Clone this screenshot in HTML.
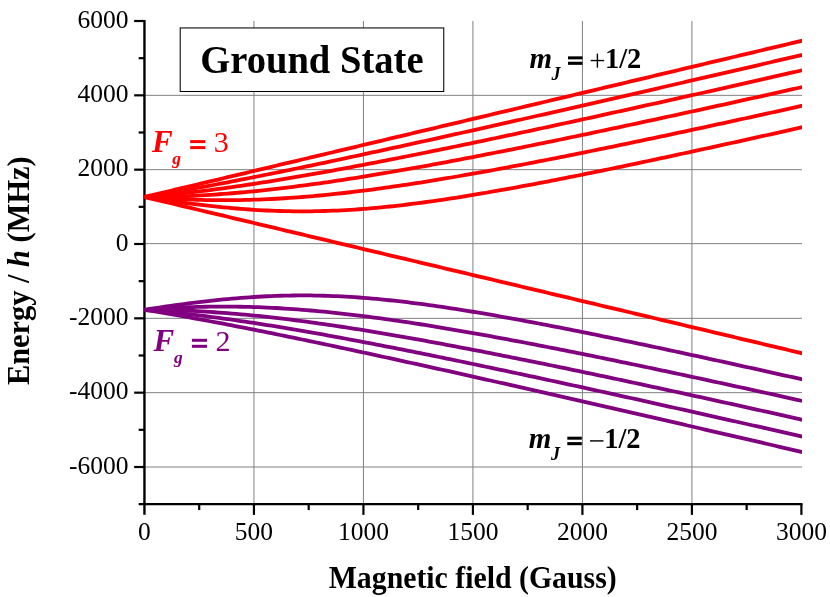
<!DOCTYPE html>
<html><head><meta charset="utf-8"><title>Ground State</title>
<style>
html,body{margin:0;padding:0;background:#fff;}
body{width:830px;height:597px;overflow:hidden;font-family:"Liberation Serif",serif;}
svg{display:block;will-change:transform;}
text{font-family:"Liberation Serif",serif;}
.tk{font-size:25.5px;fill:#000;}
.b{font-weight:bold;}
.bi{font-weight:bold;font-style:italic;}
</style></head><body>
<svg width="830" height="597" viewBox="0 0 830 597">
<rect width="830" height="597" fill="#fff"/>
<defs><clipPath id="cp"><rect x="144.45" y="0" width="657.55" height="504.17"/></clipPath></defs>

<g stroke="#808080" stroke-width="1" fill="none">
<line x1="253.94" y1="21.00" x2="253.94" y2="504.17"/>
<line x1="363.43" y1="21.00" x2="363.43" y2="504.17"/>
<line x1="472.93" y1="21.00" x2="472.93" y2="504.17"/>
<line x1="582.42" y1="21.00" x2="582.42" y2="504.17"/>
<line x1="691.91" y1="21.00" x2="691.91" y2="504.17"/>
<line x1="144.45" y1="467.00" x2="802.00" y2="467.00"/>
<line x1="144.45" y1="392.67" x2="802.00" y2="392.67"/>
<line x1="144.45" y1="318.33" x2="802.00" y2="318.33"/>
<line x1="144.45" y1="243.65" x2="802.00" y2="243.65"/>
<line x1="144.45" y1="169.67" x2="802.00" y2="169.67"/>
<line x1="144.45" y1="95.33" x2="802.00" y2="95.33"/>
</g>
<g stroke="#000" stroke-width="2.4" fill="none">
<line x1="144.45" y1="19.90" x2="144.45" y2="514.87"/>
<line x1="138.65" y1="504.17" x2="802.50" y2="504.17"/>
<line stroke-width="2.2" x1="134.15" y1="467.00" x2="144.45" y2="467.00"/>
<line stroke-width="2.2" x1="138.65" y1="429.83" x2="144.45" y2="429.83"/>
<line stroke-width="2.2" x1="134.15" y1="392.67" x2="144.45" y2="392.67"/>
<line stroke-width="2.2" x1="138.65" y1="355.50" x2="144.45" y2="355.50"/>
<line stroke-width="2.2" x1="134.15" y1="318.33" x2="144.45" y2="318.33"/>
<line stroke-width="2.2" x1="138.65" y1="281.17" x2="144.45" y2="281.17"/>
<line stroke-width="2.2" x1="134.15" y1="244.00" x2="144.45" y2="244.00"/>
<line stroke-width="2.2" x1="138.65" y1="206.83" x2="144.45" y2="206.83"/>
<line stroke-width="2.2" x1="134.15" y1="169.67" x2="144.45" y2="169.67"/>
<line stroke-width="2.2" x1="138.65" y1="132.50" x2="144.45" y2="132.50"/>
<line stroke-width="2.2" x1="134.15" y1="95.33" x2="144.45" y2="95.33"/>
<line stroke-width="2.2" x1="138.65" y1="58.17" x2="144.45" y2="58.17"/>
<line stroke-width="2.2" x1="134.15" y1="21.00" x2="144.45" y2="21.00"/>
<line stroke-width="2.2" x1="199.20" y1="504.17" x2="199.20" y2="510.07"/>
<line stroke-width="2.2" x1="253.94" y1="504.17" x2="253.94" y2="514.87"/>
<line stroke-width="2.2" x1="308.69" y1="504.17" x2="308.69" y2="510.07"/>
<line stroke-width="2.2" x1="363.43" y1="504.17" x2="363.43" y2="514.87"/>
<line stroke-width="2.2" x1="418.18" y1="504.17" x2="418.18" y2="510.07"/>
<line stroke-width="2.2" x1="472.93" y1="504.17" x2="472.93" y2="514.87"/>
<line stroke-width="2.2" x1="527.67" y1="504.17" x2="527.67" y2="510.07"/>
<line stroke-width="2.2" x1="582.42" y1="504.17" x2="582.42" y2="514.87"/>
<line stroke-width="2.2" x1="637.16" y1="504.17" x2="637.16" y2="510.07"/>
<line stroke-width="2.2" x1="691.91" y1="504.17" x2="691.91" y2="514.87"/>
<line stroke-width="2.2" x1="746.65" y1="504.17" x2="746.65" y2="510.07"/>
<line stroke-width="2.2" x1="801.40" y1="504.17" x2="801.40" y2="514.87"/>
</g>
<g clip-path="url(#cp)" fill="none" stroke-width="3.8" stroke-linejoin="round">
<path d="M144.45,309.82 L148.83,309.13 L153.21,308.45 L157.59,307.78 L161.97,307.13 L166.35,306.48 L170.73,305.85 L175.11,305.24 L179.49,304.63 L183.87,304.04 L188.25,303.47 L192.63,302.91 L197.01,302.37 L201.39,301.84 L205.77,301.33 L210.14,300.84 L214.52,300.37 L218.90,299.91 L223.28,299.47 L227.66,299.06 L232.04,298.66 L236.42,298.28 L240.80,297.93 L245.18,297.60 L249.56,297.29 L253.94,297.00 L258.32,296.73 L262.70,296.49 L267.08,296.27 L271.46,296.08 L275.84,295.91 L280.22,295.77 L284.60,295.65 L288.98,295.55 L293.36,295.49 L297.74,295.45 L302.12,295.43 L306.50,295.44 L310.88,295.47 L315.26,295.54 L319.64,295.62 L324.02,295.73 L328.40,295.87 L332.78,296.03 L337.16,296.22 L341.53,296.43 L345.91,296.67 L350.29,296.93 L354.67,297.21 L359.05,297.52 L363.43,297.84 L367.81,298.19 L372.19,298.56 L376.57,298.95 L380.95,299.37 L385.33,299.80 L389.71,300.25 L394.09,300.72 L398.47,301.20 L402.85,301.71 L407.23,302.23 L411.61,302.77 L415.99,303.32 L420.37,303.89 L424.75,304.48 L429.13,305.08 L433.51,305.69 L437.89,306.32 L442.27,306.95 L446.65,307.61 L451.03,308.27 L455.41,308.94 L459.79,309.63 L464.17,310.33 L468.55,311.04 L472.93,311.75 L477.30,312.48 L481.68,313.22 L486.06,313.96 L490.44,314.72 L494.82,315.48 L499.20,316.25 L503.58,317.03 L507.96,317.81 L512.34,318.60 L516.72,319.40 L521.10,320.21 L525.48,321.02 L529.86,321.84 L534.24,322.66 L538.62,323.50 L543.00,324.33 L547.38,325.17 L551.76,326.02 L556.14,326.87 L560.52,327.73 L564.90,328.59 L569.28,329.45 L573.66,330.32 L578.04,331.20 L582.42,332.08 L586.80,332.96 L591.18,333.84 L595.56,334.73 L599.94,335.63 L604.32,336.52 L608.69,337.42 L613.07,338.33 L617.45,339.23 L621.83,340.14 L626.21,341.05 L630.59,341.97 L634.97,342.89 L639.35,343.81 L643.73,344.73 L648.11,345.66 L652.49,346.58 L656.87,347.51 L661.25,348.45 L665.63,349.38 L670.01,350.32 L674.39,351.26 L678.77,352.20 L683.15,353.14 L687.53,354.09 L691.91,355.03 L696.29,355.98 L700.67,356.93 L705.05,357.89 L709.43,358.84 L713.81,359.80 L718.19,360.75 L722.57,361.71 L726.95,362.67 L731.33,363.63 L735.70,364.60 L740.08,365.56 L744.46,366.53 L748.84,367.50 L753.22,368.46 L757.60,369.43 L761.98,370.40 L766.36,371.38 L770.74,372.35 L775.12,373.32 L779.50,374.30 L783.88,375.28 L788.26,376.26 L792.64,377.23 L797.02,378.21 L801.40,379.19 L805.78,380.18 L810.16,381.16" stroke="#800080"/>
<path d="M144.45,309.82 L148.83,309.48 L153.21,309.16 L157.59,308.85 L161.97,308.57 L166.35,308.30 L170.73,308.05 L175.11,307.82 L179.49,307.61 L183.87,307.42 L188.25,307.24 L192.63,307.09 L197.01,306.96 L201.39,306.85 L205.77,306.75 L210.14,306.68 L214.52,306.63 L218.90,306.60 L223.28,306.58 L227.66,306.59 L232.04,306.62 L236.42,306.67 L240.80,306.74 L245.18,306.83 L249.56,306.94 L253.94,307.07 L258.32,307.22 L262.70,307.39 L267.08,307.58 L271.46,307.79 L275.84,308.02 L280.22,308.26 L284.60,308.53 L288.98,308.81 L293.36,309.11 L297.74,309.43 L302.12,309.77 L306.50,310.12 L310.88,310.49 L315.26,310.88 L319.64,311.28 L324.02,311.70 L328.40,312.14 L332.78,312.59 L337.16,313.05 L341.53,313.53 L345.91,314.02 L350.29,314.53 L354.67,315.05 L359.05,315.58 L363.43,316.13 L367.81,316.69 L372.19,317.26 L376.57,317.84 L380.95,318.44 L385.33,319.04 L389.71,319.66 L394.09,320.28 L398.47,320.92 L402.85,321.57 L407.23,322.22 L411.61,322.89 L415.99,323.56 L420.37,324.25 L424.75,324.94 L429.13,325.64 L433.51,326.35 L437.89,327.06 L442.27,327.79 L446.65,328.52 L451.03,329.26 L455.41,330.01 L459.79,330.76 L464.17,331.52 L468.55,332.29 L472.93,333.06 L477.30,333.84 L481.68,334.62 L486.06,335.41 L490.44,336.21 L494.82,337.01 L499.20,337.81 L503.58,338.62 L507.96,339.44 L512.34,340.26 L516.72,341.09 L521.10,341.92 L525.48,342.75 L529.86,343.59 L534.24,344.43 L538.62,345.28 L543.00,346.13 L547.38,346.99 L551.76,347.85 L556.14,348.71 L560.52,349.58 L564.90,350.44 L569.28,351.32 L573.66,352.19 L578.04,353.07 L582.42,353.96 L586.80,354.84 L591.18,355.73 L595.56,356.62 L599.94,357.51 L604.32,358.41 L608.69,359.31 L613.07,360.21 L617.45,361.12 L621.83,362.02 L626.21,362.93 L630.59,363.84 L634.97,364.76 L639.35,365.67 L643.73,366.59 L648.11,367.51 L652.49,368.44 L656.87,369.36 L661.25,370.29 L665.63,371.21 L670.01,372.15 L674.39,373.08 L678.77,374.01 L683.15,374.95 L687.53,375.88 L691.91,376.82 L696.29,377.76 L700.67,378.71 L705.05,379.65 L709.43,380.60 L713.81,381.54 L718.19,382.49 L722.57,383.44 L726.95,384.39 L731.33,385.34 L735.70,386.30 L740.08,387.25 L744.46,388.21 L748.84,389.17 L753.22,390.12 L757.60,391.08 L761.98,392.05 L766.36,393.01 L770.74,393.97 L775.12,394.94 L779.50,395.90 L783.88,396.87 L788.26,397.84 L792.64,398.81 L797.02,399.78 L801.40,400.75 L805.78,401.72 L810.16,402.69" stroke="#800080"/>
<path d="M144.45,309.82 L148.83,309.83 L153.21,309.85 L157.59,309.90 L161.97,309.97 L166.35,310.06 L170.73,310.16 L175.11,310.29 L179.49,310.43 L183.87,310.59 L188.25,310.77 L192.63,310.97 L197.01,311.18 L201.39,311.42 L205.77,311.67 L210.14,311.94 L214.52,312.23 L218.90,312.53 L223.28,312.85 L227.66,313.19 L232.04,313.54 L236.42,313.91 L240.80,314.29 L245.18,314.69 L249.56,315.11 L253.94,315.54 L258.32,315.98 L262.70,316.44 L267.08,316.91 L271.46,317.40 L275.84,317.89 L280.22,318.41 L284.60,318.93 L288.98,319.47 L293.36,320.01 L297.74,320.57 L302.12,321.14 L306.50,321.73 L310.88,322.32 L315.26,322.92 L319.64,323.54 L324.02,324.16 L328.40,324.80 L332.78,325.44 L337.16,326.09 L341.53,326.75 L345.91,327.42 L350.29,328.10 L354.67,328.79 L359.05,329.48 L363.43,330.19 L367.81,330.90 L372.19,331.61 L376.57,332.34 L380.95,333.07 L385.33,333.81 L389.71,334.56 L394.09,335.31 L398.47,336.07 L402.85,336.83 L407.23,337.60 L411.61,338.38 L415.99,339.16 L420.37,339.95 L424.75,340.74 L429.13,341.54 L433.51,342.34 L437.89,343.15 L442.27,343.96 L446.65,344.78 L451.03,345.60 L455.41,346.43 L459.79,347.26 L464.17,348.09 L468.55,348.93 L472.93,349.77 L477.30,350.62 L481.68,351.47 L486.06,352.32 L490.44,353.18 L494.82,354.04 L499.20,354.91 L503.58,355.77 L507.96,356.64 L512.34,357.52 L516.72,358.40 L521.10,359.28 L525.48,360.16 L529.86,361.04 L534.24,361.93 L538.62,362.82 L543.00,363.72 L547.38,364.61 L551.76,365.51 L556.14,366.41 L560.52,367.32 L564.90,368.22 L569.28,369.13 L573.66,370.04 L578.04,370.96 L582.42,371.87 L586.80,372.79 L591.18,373.71 L595.56,374.63 L599.94,375.55 L604.32,376.48 L608.69,377.40 L613.07,378.33 L617.45,379.26 L621.83,380.20 L626.21,381.13 L630.59,382.06 L634.97,383.00 L639.35,383.94 L643.73,384.88 L648.11,385.82 L652.49,386.77 L656.87,387.71 L661.25,388.66 L665.63,389.60 L670.01,390.55 L674.39,391.50 L678.77,392.45 L683.15,393.41 L687.53,394.36 L691.91,395.32 L696.29,396.27 L700.67,397.23 L705.05,398.19 L709.43,399.15 L713.81,400.11 L718.19,401.07 L722.57,402.04 L726.95,403.00 L731.33,403.97 L735.70,404.93 L740.08,405.90 L744.46,406.87 L748.84,407.84 L753.22,408.81 L757.60,409.78 L761.98,410.75 L766.36,411.72 L770.74,412.70 L775.12,413.67 L779.50,414.65 L783.88,415.62 L788.26,416.60 L792.64,417.58 L797.02,418.56 L801.40,419.54 L805.78,420.52 L810.16,421.50" stroke="#800080"/>
<path d="M144.45,309.82 L148.83,310.17 L153.21,310.55 L157.59,310.93 L161.97,311.34 L166.35,311.76 L170.73,312.20 L175.11,312.65 L179.49,313.12 L183.87,313.60 L188.25,314.09 L192.63,314.60 L197.01,315.12 L201.39,315.66 L205.77,316.21 L210.14,316.77 L214.52,317.34 L218.90,317.92 L223.28,318.52 L227.66,319.13 L232.04,319.74 L236.42,320.37 L240.80,321.01 L245.18,321.66 L249.56,322.32 L253.94,322.98 L258.32,323.66 L262.70,324.34 L267.08,325.04 L271.46,325.74 L275.84,326.45 L280.22,327.17 L284.60,327.89 L288.98,328.63 L293.36,329.37 L297.74,330.12 L302.12,330.87 L306.50,331.63 L310.88,332.40 L315.26,333.17 L319.64,333.95 L324.02,334.74 L328.40,335.53 L332.78,336.32 L337.16,337.13 L341.53,337.93 L345.91,338.75 L350.29,339.56 L354.67,340.39 L359.05,341.21 L363.43,342.04 L367.81,342.88 L372.19,343.72 L376.57,344.56 L380.95,345.41 L385.33,346.26 L389.71,347.12 L394.09,347.98 L398.47,348.84 L402.85,349.71 L407.23,350.58 L411.61,351.46 L415.99,352.33 L420.37,353.21 L424.75,354.10 L429.13,354.98 L433.51,355.87 L437.89,356.76 L442.27,357.66 L446.65,358.56 L451.03,359.46 L455.41,360.36 L459.79,361.26 L464.17,362.17 L468.55,363.08 L472.93,363.99 L477.30,364.91 L481.68,365.83 L486.06,366.75 L490.44,367.67 L494.82,368.59 L499.20,369.52 L503.58,370.44 L507.96,371.37 L512.34,372.30 L516.72,373.24 L521.10,374.17 L525.48,375.11 L529.86,376.04 L534.24,376.98 L538.62,377.93 L543.00,378.87 L547.38,379.81 L551.76,380.76 L556.14,381.71 L560.52,382.66 L564.90,383.61 L569.28,384.56 L573.66,385.51 L578.04,386.47 L582.42,387.42 L586.80,388.38 L591.18,389.34 L595.56,390.30 L599.94,391.26 L604.32,392.22 L608.69,393.18 L613.07,394.15 L617.45,395.11 L621.83,396.08 L626.21,397.05 L630.59,398.01 L634.97,398.98 L639.35,399.95 L643.73,400.93 L648.11,401.90 L652.49,402.87 L656.87,403.85 L661.25,404.82 L665.63,405.80 L670.01,406.77 L674.39,407.75 L678.77,408.73 L683.15,409.71 L687.53,410.69 L691.91,411.67 L696.29,412.65 L700.67,413.64 L705.05,414.62 L709.43,415.60 L713.81,416.59 L718.19,417.57 L722.57,418.56 L726.95,419.55 L731.33,420.53 L735.70,421.52 L740.08,422.51 L744.46,423.50 L748.84,424.49 L753.22,425.48 L757.60,426.47 L761.98,427.46 L766.36,428.46 L770.74,429.45 L775.12,430.44 L779.50,431.44 L783.88,432.43 L788.26,433.43 L792.64,434.42 L797.02,435.42 L801.40,436.42 L805.78,437.41 L810.16,438.41" stroke="#800080"/>
<path d="M144.45,309.82 L148.83,310.52 L153.21,311.23 L157.59,311.95 L161.97,312.68 L166.35,313.42 L170.73,314.17 L175.11,314.92 L179.49,315.69 L183.87,316.46 L188.25,317.24 L192.63,318.03 L197.01,318.82 L201.39,319.63 L205.77,320.44 L210.14,321.25 L214.52,322.07 L218.90,322.90 L223.28,323.73 L227.66,324.57 L232.04,325.41 L236.42,326.26 L240.80,327.12 L245.18,327.97 L249.56,328.84 L253.94,329.71 L258.32,330.58 L262.70,331.45 L267.08,332.33 L271.46,333.22 L275.84,334.11 L280.22,335.00 L284.60,335.89 L288.98,336.79 L293.36,337.69 L297.74,338.60 L302.12,339.51 L306.50,340.42 L310.88,341.33 L315.26,342.25 L319.64,343.17 L324.02,344.09 L328.40,345.01 L332.78,345.94 L337.16,346.87 L341.53,347.80 L345.91,348.74 L350.29,349.67 L354.67,350.61 L359.05,351.55 L363.43,352.50 L367.81,353.44 L372.19,354.39 L376.57,355.34 L380.95,356.29 L385.33,357.24 L389.71,358.19 L394.09,359.15 L398.47,360.11 L402.85,361.07 L407.23,362.03 L411.61,362.99 L415.99,363.95 L420.37,364.92 L424.75,365.88 L429.13,366.85 L433.51,367.82 L437.89,368.79 L442.27,369.76 L446.65,370.73 L451.03,371.71 L455.41,372.68 L459.79,373.66 L464.17,374.63 L468.55,375.61 L472.93,376.59 L477.30,377.57 L481.68,378.55 L486.06,379.53 L490.44,380.52 L494.82,381.50 L499.20,382.49 L503.58,383.47 L507.96,384.46 L512.34,385.45 L516.72,386.44 L521.10,387.42 L525.48,388.41 L529.86,389.41 L534.24,390.40 L538.62,391.39 L543.00,392.38 L547.38,393.38 L551.76,394.37 L556.14,395.37 L560.52,396.36 L564.90,397.36 L569.28,398.36 L573.66,399.35 L578.04,400.35 L582.42,401.35 L586.80,402.35 L591.18,403.35 L595.56,404.35 L599.94,405.35 L604.32,406.36 L608.69,407.36 L613.07,408.36 L617.45,409.36 L621.83,410.37 L626.21,411.37 L630.59,412.38 L634.97,413.38 L639.35,414.39 L643.73,415.40 L648.11,416.40 L652.49,417.41 L656.87,418.42 L661.25,419.43 L665.63,420.43 L670.01,421.44 L674.39,422.45 L678.77,423.46 L683.15,424.47 L687.53,425.48 L691.91,426.49 L696.29,427.51 L700.67,428.52 L705.05,429.53 L709.43,430.54 L713.81,431.55 L718.19,432.57 L722.57,433.58 L726.95,434.59 L731.33,435.61 L735.70,436.62 L740.08,437.64 L744.46,438.65 L748.84,439.67 L753.22,440.68 L757.60,441.70 L761.98,442.72 L766.36,443.73 L770.74,444.75 L775.12,445.77 L779.50,446.78 L783.88,447.80 L788.26,448.82 L792.64,449.84 L797.02,450.86 L801.40,451.87 L805.78,452.89 L810.16,453.91" stroke="#800080"/>
<path d="M144.45,196.99 L148.83,198.03 L153.21,199.07 L157.59,200.11 L161.97,201.15 L166.35,202.19 L170.73,203.23 L175.11,204.27 L179.49,205.32 L183.87,206.36 L188.25,207.40 L192.63,208.44 L197.01,209.48 L201.39,210.52 L205.77,211.56 L210.14,212.60 L214.52,213.64 L218.90,214.68 L223.28,215.72 L227.66,216.76 L232.04,217.81 L236.42,218.85 L240.80,219.89 L245.18,220.93 L249.56,221.97 L253.94,223.01 L258.32,224.05 L262.70,225.09 L267.08,226.13 L271.46,227.17 L275.84,228.21 L280.22,229.25 L284.60,230.30 L288.98,231.34 L293.36,232.38 L297.74,233.42 L302.12,234.46 L306.50,235.50 L310.88,236.54 L315.26,237.58 L319.64,238.62 L324.02,239.66 L328.40,240.70 L332.78,241.74 L337.16,242.79 L341.53,243.83 L345.91,244.87 L350.29,245.91 L354.67,246.95 L359.05,247.99 L363.43,249.03 L367.81,250.07 L372.19,251.11 L376.57,252.15 L380.95,253.19 L385.33,254.23 L389.71,255.28 L394.09,256.32 L398.47,257.36 L402.85,258.40 L407.23,259.44 L411.61,260.48 L415.99,261.52 L420.37,262.56 L424.75,263.60 L429.13,264.64 L433.51,265.68 L437.89,266.72 L442.27,267.77 L446.65,268.81 L451.03,269.85 L455.41,270.89 L459.79,271.93 L464.17,272.97 L468.55,274.01 L472.93,275.05 L477.30,276.09 L481.68,277.13 L486.06,278.17 L490.44,279.21 L494.82,280.26 L499.20,281.30 L503.58,282.34 L507.96,283.38 L512.34,284.42 L516.72,285.46 L521.10,286.50 L525.48,287.54 L529.86,288.58 L534.24,289.62 L538.62,290.66 L543.00,291.70 L547.38,292.75 L551.76,293.79 L556.14,294.83 L560.52,295.87 L564.90,296.91 L569.28,297.95 L573.66,298.99 L578.04,300.03 L582.42,301.07 L586.80,302.11 L591.18,303.15 L595.56,304.19 L599.94,305.24 L604.32,306.28 L608.69,307.32 L613.07,308.36 L617.45,309.40 L621.83,310.44 L626.21,311.48 L630.59,312.52 L634.97,313.56 L639.35,314.60 L643.73,315.64 L648.11,316.68 L652.49,317.73 L656.87,318.77 L661.25,319.81 L665.63,320.85 L670.01,321.89 L674.39,322.93 L678.77,323.97 L683.15,325.01 L687.53,326.05 L691.91,327.09 L696.29,328.13 L700.67,329.17 L705.05,330.22 L709.43,331.26 L713.81,332.30 L718.19,333.34 L722.57,334.38 L726.95,335.42 L731.33,336.46 L735.70,337.50 L740.08,338.54 L744.46,339.58 L748.84,340.62 L753.22,341.66 L757.60,342.71 L761.98,343.75 L766.36,344.79 L770.74,345.83 L775.12,346.87 L779.50,347.91 L783.88,348.95 L788.26,349.99 L792.64,351.03 L797.02,352.07 L801.40,353.11 L805.78,354.15 L810.16,355.20" stroke="#ff0000"/>
<path d="M144.45,196.99 L148.83,197.68 L153.21,198.35 L157.59,199.02 L161.97,199.67 L166.35,200.32 L170.73,200.94 L175.11,201.56 L179.49,202.16 L183.87,202.75 L188.25,203.32 L192.63,203.88 L197.01,204.42 L201.39,204.95 L205.77,205.45 L210.14,205.94 L214.52,206.42 L218.90,206.87 L223.28,207.31 L227.66,207.72 L232.04,208.12 L236.42,208.49 L240.80,208.85 L245.18,209.18 L249.56,209.49 L253.94,209.78 L258.32,210.04 L262.70,210.28 L267.08,210.50 L271.46,210.69 L275.84,210.86 L280.22,211.00 L284.60,211.12 L288.98,211.21 L293.36,211.28 L297.74,211.32 L302.12,211.33 L306.50,211.32 L310.88,211.28 L315.26,211.22 L319.64,211.13 L324.02,211.02 L328.40,210.88 L332.78,210.72 L337.16,210.53 L341.53,210.32 L345.91,210.08 L350.29,209.82 L354.67,209.54 L359.05,209.23 L363.43,208.90 L367.81,208.55 L372.19,208.18 L376.57,207.79 L380.95,207.37 L385.33,206.94 L389.71,206.49 L394.09,206.02 L398.47,205.53 L402.85,205.02 L407.23,204.50 L411.61,203.96 L415.99,203.40 L420.37,202.83 L424.75,202.25 L429.13,201.65 L433.51,201.03 L437.89,200.41 L442.27,199.77 L446.65,199.11 L451.03,198.45 L455.41,197.77 L459.79,197.09 L464.17,196.39 L468.55,195.68 L472.93,194.96 L477.30,194.23 L481.68,193.49 L486.06,192.75 L490.44,191.99 L494.82,191.23 L499.20,190.46 L503.58,189.68 L507.96,188.89 L512.34,188.10 L516.72,187.30 L521.10,186.49 L525.48,185.68 L529.86,184.86 L534.24,184.03 L538.62,183.20 L543.00,182.36 L547.38,181.52 L551.76,180.67 L556.14,179.82 L560.52,178.96 L564.90,178.10 L569.28,177.23 L573.66,176.36 L578.04,175.49 L582.42,174.61 L586.80,173.72 L591.18,172.84 L595.56,171.95 L599.94,171.05 L604.32,170.15 L608.69,169.25 L613.07,168.35 L617.45,167.44 L621.83,166.53 L626.21,165.62 L630.59,164.70 L634.97,163.78 L639.35,162.86 L643.73,161.94 L648.11,161.01 L652.49,160.08 L656.87,159.15 L661.25,158.21 L665.63,157.28 L670.01,156.34 L674.39,155.40 L678.77,154.46 L683.15,153.51 L687.53,152.57 L691.91,151.62 L696.29,150.67 L700.67,149.72 L705.05,148.76 L709.43,147.81 L713.81,146.85 L718.19,145.89 L722.57,144.93 L726.95,143.97 L731.33,143.01 L735.70,142.04 L740.08,141.08 L744.46,140.11 L748.84,139.14 L753.22,138.17 L757.60,137.20 L761.98,136.23 L766.36,135.25 L770.74,134.28 L775.12,133.30 L779.50,132.33 L783.88,131.35 L788.26,130.37 L792.64,129.39 L797.02,128.41 L801.40,127.43 L805.78,126.44 L810.16,125.46" stroke="#ff0000"/>
<path d="M144.45,196.99 L148.83,197.33 L153.21,197.65 L157.59,197.95 L161.97,198.24 L166.35,198.50 L170.73,198.75 L175.11,198.98 L179.49,199.19 L183.87,199.38 L188.25,199.55 L192.63,199.71 L197.01,199.84 L201.39,199.95 L205.77,200.04 L210.14,200.12 L214.52,200.17 L218.90,200.20 L223.28,200.21 L227.66,200.20 L232.04,200.17 L236.42,200.12 L240.80,200.05 L245.18,199.96 L249.56,199.85 L253.94,199.72 L258.32,199.57 L262.70,199.40 L267.08,199.21 L271.46,199.00 L275.84,198.77 L280.22,198.52 L284.60,198.26 L288.98,197.97 L293.36,197.67 L297.74,197.35 L302.12,197.01 L306.50,196.66 L310.88,196.29 L315.26,195.90 L319.64,195.50 L324.02,195.08 L328.40,194.64 L332.78,194.19 L337.16,193.73 L341.53,193.25 L345.91,192.75 L350.29,192.25 L354.67,191.72 L359.05,191.19 L363.43,190.64 L367.81,190.08 L372.19,189.51 L376.57,188.93 L380.95,188.34 L385.33,187.73 L389.71,187.11 L394.09,186.49 L398.47,185.85 L402.85,185.20 L407.23,184.55 L411.61,183.88 L415.99,183.20 L420.37,182.52 L424.75,181.83 L429.13,181.13 L433.51,180.42 L437.89,179.70 L442.27,178.97 L446.65,178.24 L451.03,177.50 L455.41,176.75 L459.79,176.00 L464.17,175.24 L468.55,174.47 L472.93,173.70 L477.30,172.92 L481.68,172.14 L486.06,171.35 L490.44,170.55 L494.82,169.75 L499.20,168.94 L503.58,168.13 L507.96,167.31 L512.34,166.49 L516.72,165.67 L521.10,164.83 L525.48,164.00 L529.86,163.16 L534.24,162.32 L538.62,161.47 L543.00,160.62 L547.38,159.76 L551.76,158.90 L556.14,158.04 L560.52,157.17 L564.90,156.30 L569.28,155.43 L573.66,154.55 L578.04,153.67 L582.42,152.79 L586.80,151.90 L591.18,151.01 L595.56,150.12 L599.94,149.23 L604.32,148.33 L608.69,147.43 L613.07,146.53 L617.45,145.62 L621.83,144.71 L626.21,143.80 L630.59,142.89 L634.97,141.98 L639.35,141.06 L643.73,140.14 L648.11,139.22 L652.49,138.30 L656.87,137.37 L661.25,136.45 L665.63,135.52 L670.01,134.59 L674.39,133.65 L678.77,132.72 L683.15,131.78 L687.53,130.84 L691.91,129.91 L696.29,128.96 L700.67,128.02 L705.05,127.08 L709.43,126.13 L713.81,125.18 L718.19,124.23 L722.57,123.28 L726.95,122.33 L731.33,121.38 L735.70,120.43 L740.08,119.47 L744.46,118.51 L748.84,117.55 L753.22,116.59 L757.60,115.63 L761.98,114.67 L766.36,113.71 L770.74,112.75 L775.12,111.78 L779.50,110.81 L783.88,109.85 L788.26,108.88 L792.64,107.91 L797.02,106.94 L801.40,105.97 L805.78,104.99 L810.16,104.02" stroke="#ff0000"/>
<path d="M144.45,196.99 L148.83,196.98 L153.21,196.95 L157.59,196.90 L161.97,196.83 L166.35,196.75 L170.73,196.64 L175.11,196.52 L179.49,196.38 L183.87,196.21 L188.25,196.03 L192.63,195.84 L197.01,195.62 L201.39,195.39 L205.77,195.13 L210.14,194.86 L214.52,194.58 L218.90,194.27 L223.28,193.95 L227.66,193.62 L232.04,193.26 L236.42,192.90 L240.80,192.51 L245.18,192.11 L249.56,191.70 L253.94,191.27 L258.32,190.82 L262.70,190.37 L267.08,189.89 L271.46,189.41 L275.84,188.91 L280.22,188.40 L284.60,187.87 L288.98,187.34 L293.36,186.79 L297.74,186.23 L302.12,185.66 L306.50,185.08 L310.88,184.48 L315.26,183.88 L319.64,183.27 L324.02,182.64 L328.40,182.01 L332.78,181.37 L337.16,180.71 L341.53,180.05 L345.91,179.38 L350.29,178.70 L354.67,178.02 L359.05,177.32 L363.43,176.62 L367.81,175.91 L372.19,175.19 L376.57,174.47 L380.95,173.73 L385.33,172.99 L389.71,172.25 L394.09,171.50 L398.47,170.74 L402.85,169.97 L407.23,169.20 L411.61,168.43 L415.99,167.65 L420.37,166.86 L424.75,166.07 L429.13,165.27 L433.51,164.46 L437.89,163.66 L442.27,162.84 L446.65,162.03 L451.03,161.21 L455.41,160.38 L459.79,159.55 L464.17,158.71 L468.55,157.88 L472.93,157.03 L477.30,156.19 L481.68,155.34 L486.06,154.48 L490.44,153.62 L494.82,152.76 L499.20,151.90 L503.58,151.03 L507.96,150.16 L512.34,149.29 L516.72,148.41 L521.10,147.53 L525.48,146.65 L529.86,145.76 L534.24,144.87 L538.62,143.98 L543.00,143.09 L547.38,142.19 L551.76,141.29 L556.14,140.39 L560.52,139.49 L564.90,138.58 L569.28,137.67 L573.66,136.76 L578.04,135.85 L582.42,134.93 L586.80,134.02 L591.18,133.10 L595.56,132.18 L599.94,131.25 L604.32,130.33 L608.69,129.40 L613.07,128.47 L617.45,127.54 L621.83,126.61 L626.21,125.68 L630.59,124.74 L634.97,123.80 L639.35,122.86 L643.73,121.92 L648.11,120.98 L652.49,120.04 L656.87,119.09 L661.25,118.15 L665.63,117.20 L670.01,116.25 L674.39,115.30 L678.77,114.35 L683.15,113.40 L687.53,112.44 L691.91,111.49 L696.29,110.53 L700.67,109.57 L705.05,108.62 L709.43,107.66 L713.81,106.69 L718.19,105.73 L722.57,104.77 L726.95,103.80 L731.33,102.84 L735.70,101.87 L740.08,100.91 L744.46,99.94 L748.84,98.97 L753.22,98.00 L757.60,97.03 L761.98,96.05 L766.36,95.08 L770.74,94.11 L775.12,93.13 L779.50,92.16 L783.88,91.18 L788.26,90.20 L792.64,89.23 L797.02,88.25 L801.40,87.27 L805.78,86.29 L810.16,85.31" stroke="#ff0000"/>
<path d="M144.45,196.99 L148.83,196.63 L153.21,196.26 L157.59,195.87 L161.97,195.47 L166.35,195.05 L170.73,194.61 L175.11,194.16 L179.49,193.69 L183.87,193.21 L188.25,192.72 L192.63,192.21 L197.01,191.69 L201.39,191.15 L205.77,190.61 L210.14,190.05 L214.52,189.48 L218.90,188.89 L223.28,188.30 L227.66,187.69 L232.04,187.07 L236.42,186.45 L240.80,185.81 L245.18,185.16 L249.56,184.50 L253.94,183.84 L258.32,183.16 L262.70,182.48 L267.08,181.78 L271.46,181.08 L275.84,180.37 L280.22,179.66 L284.60,178.93 L288.98,178.20 L293.36,177.46 L297.74,176.71 L302.12,175.96 L306.50,175.20 L310.88,174.43 L315.26,173.66 L319.64,172.88 L324.02,172.09 L328.40,171.30 L332.78,170.51 L337.16,169.71 L341.53,168.90 L345.91,168.09 L350.29,167.27 L354.67,166.45 L359.05,165.62 L363.43,164.79 L367.81,163.96 L372.19,163.12 L376.57,162.27 L380.95,161.43 L385.33,160.57 L389.71,159.72 L394.09,158.86 L398.47,158.00 L402.85,157.13 L407.23,156.26 L411.61,155.39 L415.99,154.51 L420.37,153.63 L424.75,152.75 L429.13,151.86 L433.51,150.97 L437.89,150.08 L442.27,149.19 L446.65,148.29 L451.03,147.39 L455.41,146.49 L459.79,145.58 L464.17,144.68 L468.55,143.77 L472.93,142.86 L477.30,141.94 L481.68,141.03 L486.06,140.11 L490.44,139.19 L494.82,138.26 L499.20,137.34 L503.58,136.41 L507.96,135.48 L512.34,134.55 L516.72,133.62 L521.10,132.69 L525.48,131.75 L529.86,130.81 L534.24,129.87 L538.62,128.93 L543.00,127.99 L547.38,127.05 L551.76,126.10 L556.14,125.16 L560.52,124.21 L564.90,123.26 L569.28,122.31 L573.66,121.35 L578.04,120.40 L582.42,119.44 L586.80,118.49 L591.18,117.53 L595.56,116.57 L599.94,115.61 L604.32,114.65 L608.69,113.69 L613.07,112.72 L617.45,111.76 L621.83,110.79 L626.21,109.83 L630.59,108.86 L634.97,107.89 L639.35,106.92 L643.73,105.95 L648.11,104.98 L652.49,104.00 L656.87,103.03 L661.25,102.06 L665.63,101.08 L670.01,100.10 L674.39,99.13 L678.77,98.15 L683.15,97.17 L687.53,96.19 L691.91,95.21 L696.29,94.23 L700.67,93.25 L705.05,92.26 L709.43,91.28 L713.81,90.30 L718.19,89.31 L722.57,88.33 L726.95,87.34 L731.33,86.35 L735.70,85.36 L740.08,84.38 L744.46,83.39 L748.84,82.40 L753.22,81.41 L757.60,80.42 L761.98,79.43 L766.36,78.43 L770.74,77.44 L775.12,76.45 L779.50,75.46 L783.88,74.46 L788.26,73.47 L792.64,72.47 L797.02,71.48 L801.40,70.48 L805.78,69.48 L810.16,68.49" stroke="#ff0000"/>
<path d="M144.45,196.99 L148.83,196.29 L153.21,195.58 L157.59,194.86 L161.97,194.13 L166.35,193.39 L170.73,192.65 L175.11,191.89 L179.49,191.13 L183.87,190.35 L188.25,189.58 L192.63,188.79 L197.01,187.99 L201.39,187.19 L205.77,186.39 L210.14,185.57 L214.52,184.75 L218.90,183.93 L223.28,183.10 L227.66,182.26 L232.04,181.42 L236.42,180.57 L240.80,179.72 L245.18,178.86 L249.56,178.00 L253.94,177.13 L258.32,176.26 L262.70,175.38 L267.08,174.51 L271.46,173.62 L275.84,172.74 L280.22,171.85 L284.60,170.95 L288.98,170.05 L293.36,169.15 L297.74,168.25 L302.12,167.34 L306.50,166.43 L310.88,165.52 L315.26,164.60 L319.64,163.69 L324.02,162.77 L328.40,161.84 L332.78,160.92 L337.16,159.99 L341.53,159.06 L345.91,158.12 L350.29,157.19 L354.67,156.25 L359.05,155.31 L363.43,154.37 L367.81,153.43 L372.19,152.48 L376.57,151.53 L380.95,150.58 L385.33,149.63 L389.71,148.68 L394.09,147.73 L398.47,146.77 L402.85,145.81 L407.23,144.85 L411.61,143.89 L415.99,142.93 L420.37,141.97 L424.75,141.00 L429.13,140.04 L433.51,139.07 L437.89,138.10 L442.27,137.13 L446.65,136.16 L451.03,135.19 L455.41,134.21 L459.79,133.24 L464.17,132.26 L468.55,131.28 L472.93,130.31 L477.30,129.33 L481.68,128.35 L486.06,127.37 L490.44,126.38 L494.82,125.40 L499.20,124.42 L503.58,123.43 L507.96,122.45 L512.34,121.46 L516.72,120.47 L521.10,119.48 L525.48,118.50 L529.86,117.51 L534.24,116.52 L538.62,115.52 L543.00,114.53 L547.38,113.54 L551.76,112.55 L556.14,111.55 L560.52,110.56 L564.90,109.56 L569.28,108.57 L573.66,107.57 L578.04,106.57 L582.42,105.58 L586.80,104.58 L591.18,103.58 L595.56,102.58 L599.94,101.58 L604.32,100.58 L608.69,99.58 L613.07,98.57 L617.45,97.57 L621.83,96.57 L626.21,95.57 L630.59,94.56 L634.97,93.56 L639.35,92.55 L643.73,91.55 L648.11,90.54 L652.49,89.54 L656.87,88.53 L661.25,87.52 L665.63,86.52 L670.01,85.51 L674.39,84.50 L678.77,83.49 L683.15,82.48 L687.53,81.47 L691.91,80.46 L696.29,79.45 L700.67,78.44 L705.05,77.43 L709.43,76.42 L713.81,75.41 L718.19,74.40 L722.57,73.38 L726.95,72.37 L731.33,71.36 L735.70,70.35 L740.08,69.33 L744.46,68.32 L748.84,67.30 L753.22,66.29 L757.60,65.28 L761.98,64.26 L766.36,63.25 L770.74,62.23 L775.12,61.21 L779.50,60.20 L783.88,59.18 L788.26,58.17 L792.64,57.15 L797.02,56.13 L801.40,55.11 L805.78,54.10 L810.16,53.08" stroke="#ff0000"/>
<path d="M144.45,196.99 L148.83,195.95 L153.21,194.91 L157.59,193.87 L161.97,192.82 L166.35,191.78 L170.73,190.74 L175.11,189.70 L179.49,188.66 L183.87,187.62 L188.25,186.58 L192.63,185.54 L197.01,184.50 L201.39,183.46 L205.77,182.42 L210.14,181.38 L214.52,180.33 L218.90,179.29 L223.28,178.25 L227.66,177.21 L232.04,176.17 L236.42,175.13 L240.80,174.09 L245.18,173.05 L249.56,172.01 L253.94,170.97 L258.32,169.93 L262.70,168.89 L267.08,167.84 L271.46,166.80 L275.84,165.76 L280.22,164.72 L284.60,163.68 L288.98,162.64 L293.36,161.60 L297.74,160.56 L302.12,159.52 L306.50,158.48 L310.88,157.44 L315.26,156.40 L319.64,155.35 L324.02,154.31 L328.40,153.27 L332.78,152.23 L337.16,151.19 L341.53,150.15 L345.91,149.11 L350.29,148.07 L354.67,147.03 L359.05,145.99 L363.43,144.95 L367.81,143.91 L372.19,142.86 L376.57,141.82 L380.95,140.78 L385.33,139.74 L389.71,138.70 L394.09,137.66 L398.47,136.62 L402.85,135.58 L407.23,134.54 L411.61,133.50 L415.99,132.46 L420.37,131.42 L424.75,130.37 L429.13,129.33 L433.51,128.29 L437.89,127.25 L442.27,126.21 L446.65,125.17 L451.03,124.13 L455.41,123.09 L459.79,122.05 L464.17,121.01 L468.55,119.97 L472.93,118.93 L477.30,117.88 L481.68,116.84 L486.06,115.80 L490.44,114.76 L494.82,113.72 L499.20,112.68 L503.58,111.64 L507.96,110.60 L512.34,109.56 L516.72,108.52 L521.10,107.48 L525.48,106.44 L529.86,105.39 L534.24,104.35 L538.62,103.31 L543.00,102.27 L547.38,101.23 L551.76,100.19 L556.14,99.15 L560.52,98.11 L564.90,97.07 L569.28,96.03 L573.66,94.99 L578.04,93.95 L582.42,92.90 L586.80,91.86 L591.18,90.82 L595.56,89.78 L599.94,88.74 L604.32,87.70 L608.69,86.66 L613.07,85.62 L617.45,84.58 L621.83,83.54 L626.21,82.50 L630.59,81.46 L634.97,80.41 L639.35,79.37 L643.73,78.33 L648.11,77.29 L652.49,76.25 L656.87,75.21 L661.25,74.17 L665.63,73.13 L670.01,72.09 L674.39,71.05 L678.77,70.01 L683.15,68.97 L687.53,67.92 L691.91,66.88 L696.29,65.84 L700.67,64.80 L705.05,63.76 L709.43,62.72 L713.81,61.68 L718.19,60.64 L722.57,59.60 L726.95,58.56 L731.33,57.52 L735.70,56.48 L740.08,55.43 L744.46,54.39 L748.84,53.35 L753.22,52.31 L757.60,51.27 L761.98,50.23 L766.36,49.19 L770.74,48.15 L775.12,47.11 L779.50,46.07 L783.88,45.03 L788.26,43.99 L792.64,42.94 L797.02,41.90 L801.40,40.86 L805.78,39.82 L810.16,38.78" stroke="#ff0000"/>
</g>
<text class="tk" x="128.5" y="473.60" text-anchor="end">-6000</text>
<text class="tk" x="128.5" y="399.27" text-anchor="end">-4000</text>
<text class="tk" x="128.5" y="324.93" text-anchor="end">-2000</text>
<text class="tk" x="128.5" y="250.60" text-anchor="end">0</text>
<text class="tk" x="128.5" y="176.27" text-anchor="end">2000</text>
<text class="tk" x="128.5" y="101.93" text-anchor="end">4000</text>
<text class="tk" x="128.5" y="27.60" text-anchor="end">6000</text>
<text class="tk" x="144.45" y="540.2" text-anchor="middle">0</text>
<text class="tk" x="253.94" y="540.2" text-anchor="middle">500</text>
<text class="tk" x="363.43" y="540.2" text-anchor="middle">1000</text>
<text class="tk" x="472.93" y="540.2" text-anchor="middle">1500</text>
<text class="tk" x="582.42" y="540.2" text-anchor="middle">2000</text>
<text class="tk" x="691.91" y="540.2" text-anchor="middle">2500</text>
<text class="tk" x="801.40" y="540.2" text-anchor="middle">3000</text>
<rect x="180.2" y="27.95" width="263.55" height="63.55" fill="#fff" stroke="#000" stroke-width="1.05"/>
<text class="b" transform="translate(200.2,72.5) scale(1,1.035)" font-size="38.6">Ground State</text>
<text class="b" transform="translate(472.7,587.6) scale(1,1.04)" font-size="29.8" text-anchor="middle">Magnetic field (Gauss)</text>
<text class="b" transform="translate(29.2,270.7) rotate(-90) scale(1,1.04)" font-size="30.4" text-anchor="middle">Energy / <tspan class="bi">h</tspan> (MHz)</text>
<g fill="#ff0000">
<text class="bi" x="151.9" y="152.3" font-size="31">F</text>
<text class="bi" x="172.2" y="163.9" font-size="17.5">g</text>
<rect x="190.20" y="140.10" width="15.10" height="3.00"/>
<rect x="190.20" y="146.10" width="15.10" height="3.00"/>
<text x="213.7" y="152.3" font-size="30">3</text>
</g>
<g fill="#800080">
<text class="bi" x="153.6" y="351.0" font-size="31">F</text>
<text class="bi" x="173.9" y="362.6" font-size="17.5">g</text>
<rect x="191.90" y="338.80" width="15.10" height="3.00"/>
<rect x="191.90" y="344.80" width="15.10" height="3.00"/>
<text x="215.4" y="351.0" font-size="30">2</text>
</g>
<g fill="#000">
<text class="bi" x="529.4" y="67.7" font-size="29">m</text>
<text class="bi" x="551.6" y="79.9" font-size="18">J</text>
<rect x="568.00" y="56.35" width="14.50" height="3.00"/>
<rect x="568.00" y="61.75" width="14.50" height="3.10"/>
<g stroke="#000" stroke-width="1.4">
<line x1="590.70" y1="60.55" x2="604.20" y2="60.55"/>
<line x1="597.40" y1="53.65" x2="597.40" y2="67.65"/>
</g>
<text class="b" x="604.9" y="67.7" font-size="28.5">1/2</text>
</g>
<g fill="#000">
<text class="bi" x="528.7" y="448.0" font-size="29">m</text>
<text class="bi" x="550.9" y="460.2" font-size="18">J</text>
<rect x="567.30" y="436.70" width="14.50" height="3.00"/>
<rect x="567.30" y="442.10" width="14.50" height="3.10"/>
<g stroke="#000" stroke-width="1.4">
<line x1="590.00" y1="440.90" x2="603.50" y2="440.90"/>
</g>
<text class="b" x="604.2" y="448.0" font-size="28.5">1/2</text>
</g>
</svg></body></html>
